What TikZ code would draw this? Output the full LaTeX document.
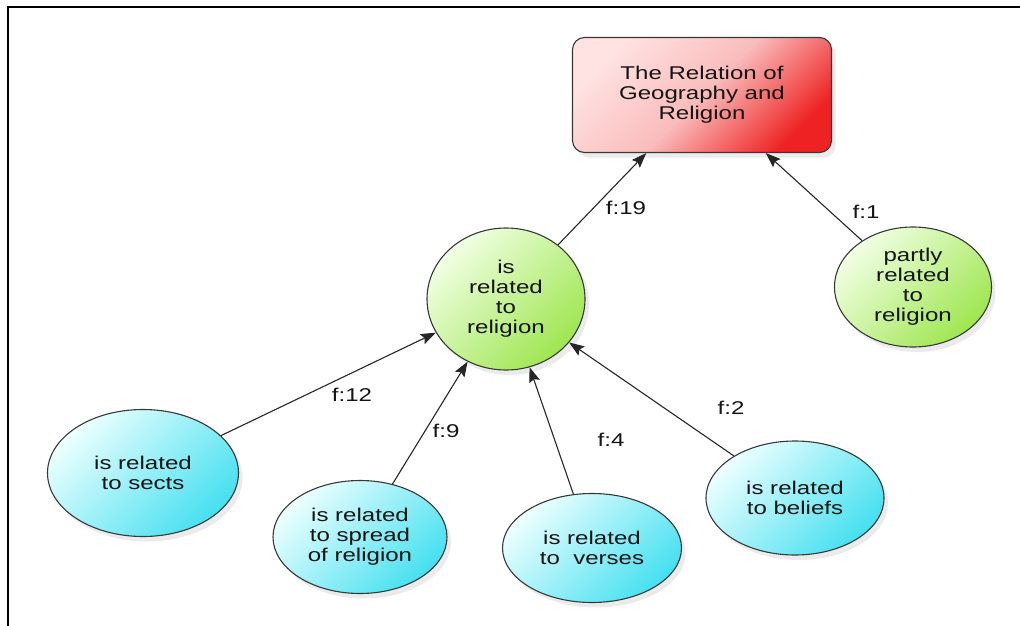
\documentclass[tikz,border=0pt]{standalone}
\usepackage{fontspec}
\setmainfont[FakeStretch=1.3]{Liberation Sans}
\usetikzlibrary{shapes.geometric,arrows.meta,shadows}

\definecolor{cyanlo}{RGB}{236,255,255}
\definecolor{cyanhi}{RGB}{70,224,240}
\definecolor{greenlo}{RGB}{242,255,228}
\definecolor{greenhi}{RGB}{158,230,80}
\definecolor{redlo}{RGB}{255,226,226}
\definecolor{redmid}{RGB}{250,188,188}
\definecolor{redhi}{RGB}{238,34,34}

\begin{document}
\begin{tikzpicture}[x=1pt,y=-1pt,
  every node/.style={font=\fontsize{18.5}{20}\selectfont, text=black!92, align=center},
  softshadow/.style={drop shadow={opacity=0.16, shadow xshift=4pt, shadow yshift=-5pt}},
  bubble/.style={ellipse, draw=black!78, line width=1.1pt, inner sep=0pt, softshadow},
  cyanbub/.style={bubble, top color=cyanlo, bottom color=cyanhi, shading angle=45},
  greenbub/.style={bubble, top color=greenlo, bottom color=greenhi, shading angle=45},
  topic/.style={rectangle, rounded corners=12pt, draw=black!78, line width=1.1pt,
    minimum width=259pt, minimum height=115pt, inner sep=0pt, softshadow,
    top color=redlo, bottom color=redhi, middle color=redmid, shading angle=45},
  link/.style={draw=black!85, line width=1.1pt, -{Stealth[length=15pt,width=11pt,inset=2.5pt]}},
  flabel/.style={inner sep=1pt}
]
\useasboundingbox (0,0) rectangle (1020,626);

% outer frame
\draw[line width=2pt] (8,626) -- (8,7) -- (1020,7);

% nodes
\node[topic] (geo) at (702,95) {The Relation of\\Geography and\\Religion};
\node[greenbub, minimum width=158pt, minimum height=142pt] (rel) at (506,299)
  {is\\related\\to\\religion};
\node[greenbub, minimum width=157pt, minimum height=120pt] (part) at (913,287)
  {partly\\related\\to\\religion};
\node[cyanbub, minimum width=191pt, minimum height=127pt] (sects) at (143,473)
  {is related\\to sects};
\node[cyanbub, minimum width=174pt, minimum height=113pt] (spread) at (360,537)
  {is related\\to spread\\of religion};
\node[cyanbub, minimum width=179pt, minimum height=109pt] (verses) at (592,548)
  {is related\\to\ \ verses};
\node[cyanbub, minimum width=178pt, minimum height=114pt] (beliefs) at (795,498)
  {is related\\to beliefs};

% connectors
\draw[link] (rel) -- (geo);
\draw[link] (part) -- (geo);
\draw[link] (sects) -- (rel);
\draw[link] (spread) -- (rel);
\draw[link] (verses) -- (rel);
\draw[link] (beliefs) -- (rel);

% frequency labels
\node[flabel] (f19) at (626,208) {f:19};
\node[flabel] (f1) at (866,212) {f:1};
\node[flabel] (f12) at (352,395) {f:12};
\node[flabel] (f9) at (446,431) {f:9};
\node[flabel] (f4) at (611,440) {f:4};
\node[flabel] (f2) at (731,408) {f:2};
\end{tikzpicture}
\end{document}
